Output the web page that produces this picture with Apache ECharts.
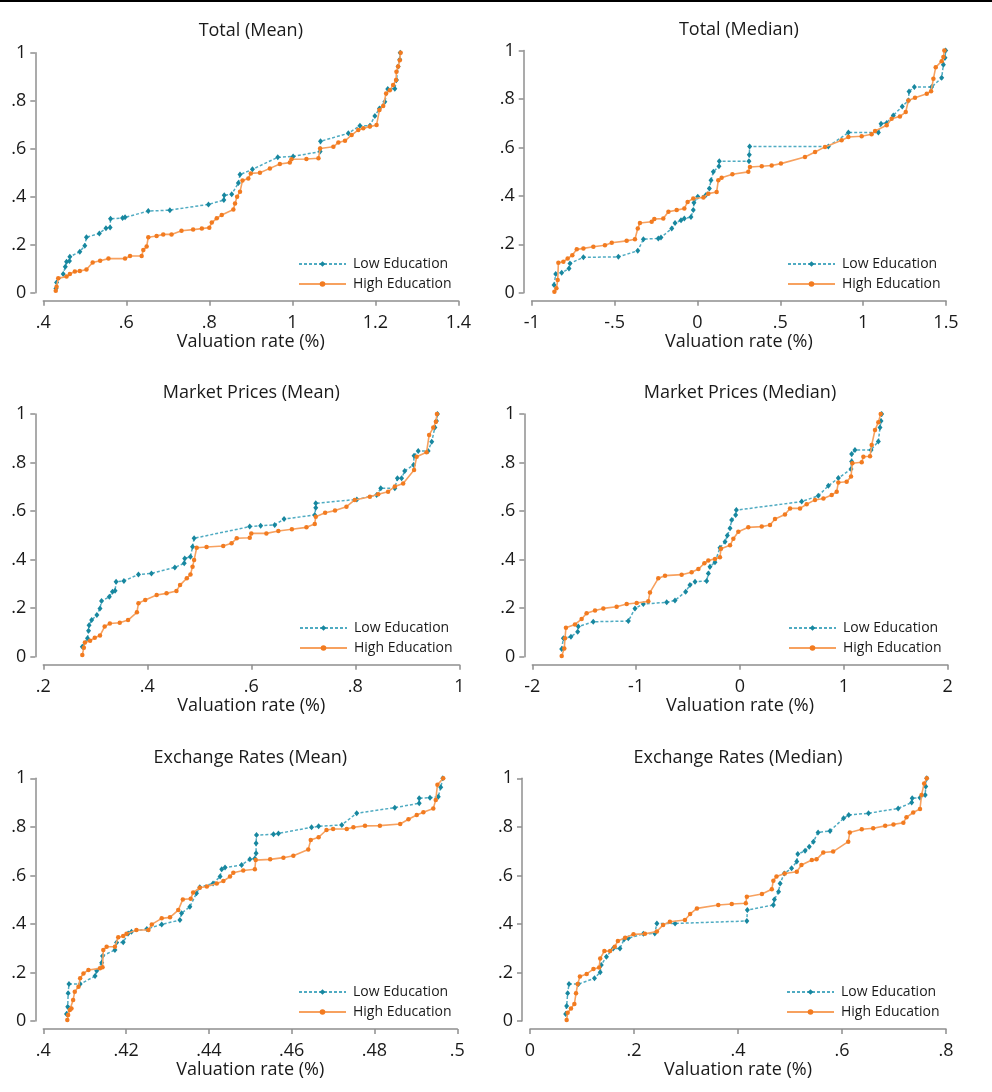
<!DOCTYPE html>
<html>
<head>
<meta charset="utf-8">
<script src="https://cdn.jsdelivr.net/npm/echarts@6/dist/echarts.min.js"></script>
<style>
html, body { margin: 0; padding: 0; background: #fff; }
#chart { width: 992px; height: 1092px; }
#topline { position: absolute; left: 0; top: 0; width: 992px; height: 2px; background: #000; z-index: 5; }
</style>
</head>
<body>
<div id="topline"></div>
<div id="chart"></div>
<script>
// panel titles, x-axis ranges [min, max, interval]
const panelTitles = ['Total (Mean)', 'Total (Median)', 'Market Prices (Mean)', 'Market Prices (Median)', 'Exchange Rates (Mean)', 'Exchange Rates (Median)']
const xRanges = [[0.4, 1.4, 0.2], [-1, 1.5, 0.5], [0.2, 1, 0.2], [-2, 2, 1], [0.4, 0.5, 0.02], [0, 0.8, 0.2]]
const seriesNames = ['Low Education', 'High Education']
const xName = 'Valuation rate (%)'

// Total (Mean)
const totalMeanLow = [[.4305,.018],[.432,.042],[.448,.078],[.453,.108],[.456,.129],[.463,.132],[.464,.15],[.488,.171],[.5,.196],[.504,.231],[.535,.247],[.551,.269],[.561,.272],[.562,.308],[.591,.311],[.597,.314],[.653,.34],[.705,.344],[.798,.368],[.835,.386],[.836,.406],[.854,.41],[.87,.457],[.874,.492],[.904,.514],[.965,.564],[1.002,.568],[1.067,.588],[1.068,.631],[1.135,.664],[1.163,.696],[1.187,.696],[1.199,.736],[1.21,.768],[1.223,.796],[1.23,.849],[1.247,.85],[1.251,.886],[1.255,.942],[1.259,.972],[1.26,1]]
const totalMeanHigh = [[.43,.008],[.432,.025],[.436,.06],[.456,.067],[.464,.078],[.476,.088],[.488,.09],[.504,.097],[.519,.126],[.537,.133],[.557,.142],[.597,.142],[.609,.153],[.637,.153],[.641,.178],[.649,.192],[.653,.231],[.673,.236],[.689,.243],[.709,.243],[.733,.258],[.761,.263],[.782,.267],[.8,.271],[.806,.292],[.818,.31],[.83,.324],[.858,.347],[.862,.372],[.867,.4],[.874,.421],[.88,.467],[.894,.476],[.9,.497],[.922,.5],[.946,.518],[.97,.536],[.994,.542],[.998,.556],[1.034,.557],[1.063,.56],[1.067,.601],[1.099,.608],[1.111,.626],[1.127,.633],[1.143,.657],[1.159,.678],[1.171,.685],[1.187,.692],[1.203,.699],[1.21,.761],[1.219,.778],[1.226,.83],[1.235,.844],[1.243,.865],[1.25,.886],[1.251,.921],[1.255,.942],[1.259,.969],[1.261,1]]

// Total (Median)
const totalMedianLow = [[-.865,.032],[-.855,.077],[-.819,.082],[-.775,.1],[-.769,.121],[-.688,.146],[-.477,.148],[-.36,.173],[-.326,.221],[-.236,.224],[-.22,.228],[-.155,.265],[-.135,.288],[-.099,.299],[-.079,.306],[-.039,.313],[-.025,.341],[-.021,.371],[.002,.396],[.05,.402],[.072,.43],[.082,.464],[.096,.499],[.13,.522],[.132,.543],[.311,.543],[.313,.57],[.315,.604],[.79,.604],[.911,.661],[1.092,.661],[1.108,.698],[1.142,.701],[1.182,.732],[1.236,.769],[1.273,.794],[1.277,.831],[1.309,.849],[1.413,.849],[1.474,.887],[1.484,.941],[1.494,.97],[1.498,1]]
const totalMedianHigh = [[-.863,.004],[-.851,.018],[-.843,.052],[-.839,.124],[-.809,.128],[-.783,.141],[-.755,.155],[-.728,.179],[-.688,.183],[-.628,.19],[-.558,.196],[-.517,.206],[-.427,.214],[-.377,.221],[-.36,.265],[-.347,.288],[-.276,.293],[-.26,.304],[-.206,.306],[-.175,.334],[-.125,.341],[-.079,.348],[-.059,.375],[-.025,.389],[.036,.393],[.066,.409],[.116,.416],[.126,.464],[.146,.475],[.211,.489],[.307,.499],[.317,.519],[.388,.522],[.448,.525],[.504,.533],[.649,.56],[.71,.581],[.77,.602],[.87,.629],[.911,.643],[.991,.646],[1.051,.654],[1.072,.668],[1.142,.691],[1.172,.718],[1.222,.728],[1.257,.746],[1.273,.794],[1.313,.805],[1.384,.821],[1.41,.832],[1.424,.883],[1.438,.931],[1.474,.956],[1.484,.973],[1.49,1]]

// Market Prices (Mean)
const marketMeanLow = [[.275,.041],[.285,.076],[.287,.107],[.288,.13],[.293,.151],[.303,.172],[.309,.199],[.312,.229],[.327,.247],[.333,.268],[.338,.272],[.34,.309],[.355,.312],[.383,.339],[.408,.343],[.453,.368],[.471,.385],[.472,.405],[.483,.412],[.487,.453],[.49,.488],[.597,.536],[.618,.54],[.645,.543],[.663,.567],[.722,.584],[.724,.614],[.724,.632],[.803,.648],[.841,.666],[.849,.694],[.876,.694],[.881,.735],[.889,.735],[.895,.765],[.912,.79],[.913,.828],[.921,.848],[.94,.848],[.947,.886],[.953,.944],[.956,.971],[.958,1]]
const marketMeanHigh = [[.275,.007],[.278,.037],[.28,.059],[.29,.066],[.299,.078],[.309,.087],[.318,.124],[.328,.137],[.347,.14],[.363,.151],[.38,.183],[.383,.22],[.396,.234],[.418,.254],[.437,.261],[.456,.271],[.463,.295],[.476,.323],[.483,.339],[.487,.371],[.49,.398],[.495,.449],[.514,.452],[.546,.456],[.562,.467],[.572,.488],[.597,.49],[.6,.508],[.629,.508],[.652,.518],[.678,.525],[.706,.533],[.722,.547],[.724,.577],[.742,.593],[.761,.602],[.783,.618],[.799,.646],[.828,.659],[.844,.669],[.863,.68],[.876,.701],[.892,.714],[.913,.769],[.918,.824],[.937,.842],[.942,.913],[.95,.944],[.955,.968],[.957,1]]

// Market Prices (Median)
const marketMedianLow = [[-1.717,.032],[-1.701,.076],[-1.628,.082],[-1.563,.103],[-1.557,.124],[-1.413,.144],[-1.075,.147],[-1.011,.199],[-.931,.217],[-.706,.224],[-.626,.232],[-.523,.268],[-.482,.295],[-.433,.309],[-.321,.312],[-.305,.343],[-.289,.371],[-.241,.389],[-.193,.449],[-.144,.474],[-.122,.499],[-.096,.529],[-.08,.563],[-.042,.584],[-.035,.604],[.594,.639],[.754,.663],[.851,.704],[.947,.736],[1.069,.773],[1.075,.804],[1.075,.835],[1.107,.852],[1.262,.852],[1.332,.887],[1.348,.944],[1.358,.971],[1.364,1]]
const marketMedianHigh = [[-1.717,.003],[-1.692,.034],[-1.685,.076],[-1.676,.119],[-1.589,.133],[-1.525,.155],[-1.477,.179],[-1.396,.19],[-1.316,.199],[-1.188,.206],[-1.091,.217],[-.995,.221],[-.883,.228],[-.867,.265],[-.787,.323],[-.722,.334],[-.562,.338],[-.466,.348],[-.401,.361],[-.343,.385],[-.305,.396],[-.241,.403],[-.193,.41],[-.183,.445],[-.096,.459],[-.064,.486],[-.016,.515],[.08,.533],[.209,.536],[.289,.543],[.337,.567],[.433,.586],[.482,.611],[.578,.611],[.642,.628],[.722,.646],[.803,.652],[.883,.666],[.931,.68],[.947,.718],[1.027,.721],[1.069,.742],[1.082,.797],[1.172,.801],[1.188,.824],[1.252,.826],[1.268,.872],[1.3,.934],[1.332,.966],[1.355,1]]

// Exchange Rates (Mean)
const exchangeMeanLow = [[.4056,.029],[.4059,.059],[.406,.114],[.4062,.152],[.4089,.152],[.4125,.185],[.4129,.207],[.4141,.24],[.4143,.268],[.4173,.293],[.4177,.323],[.4193,.324],[.4205,.361],[.4213,.368],[.425,.379],[.4286,.398],[.433,.416],[.4334,.444],[.4354,.471],[.437,.526],[.4378,.551],[.441,.567],[.4427,.595],[.4431,.625],[.4439,.632],[.4479,.643],[.4499,.666],[.4511,.67],[.4514,.691],[.4514,.732],[.4515,.766],[.4556,.769],[.4568,.773],[.4648,.798],[.4665,.802],[.4721,.808],[.4757,.856],[.4849,.879],[.4908,.897],[.4908,.918],[.4934,.92],[.4954,.924],[.496,.963],[.4965,1]]
const exchangeMeanHigh = [[.4058,.004],[.406,.025],[.4064,.045],[.4068,.052],[.4072,.087],[.4076,.121],[.4085,.141],[.4089,.176],[.4097,.196],[.4109,.21],[.4137,.217],[.4143,.221],[.4145,.293],[.4153,.306],[.4173,.306],[.4181,.345],[.4193,.35],[.4201,.359],[.4225,.375],[.4254,.375],[.4262,.398],[.4286,.423],[.4306,.427],[.4326,.457],[.4337,.501],[.4356,.504],[.4362,.529],[.4378,.549],[.4395,.554],[.4419,.567],[.4435,.577],[.4451,.595],[.4459,.611],[.4483,.62],[.4511,.625],[.4513,.663],[.4548,.666],[.458,.673],[.4604,.681],[.464,.707],[.4646,.746],[.4665,.757],[.4684,.787],[.47,.791],[.4733,.791],[.4749,.798],[.4777,.804],[.4813,.805],[.4862,.812],[.4882,.831],[.4902,.849],[.4918,.86],[.4942,.876],[.4948,.911],[.4952,.973],[.4966,1]]

// Exchange Rates (Median)
const exchangeMedianLow = [[.0686,.029],[.0705,.062],[.0724,.114],[.075,.152],[.093,.152],[.124,.176],[.135,.201],[.137,.231],[.147,.265],[.16,.299],[.173,.299],[.181,.337],[.189,.341],[.218,.359],[.24,.361],[.244,.402],[.279,.402],[.417,.412],[.418,.457],[.468,.478],[.47,.501],[.478,.533],[.481,.567],[.489,.608],[.503,.629],[.513,.657],[.515,.688],[.529,.701],[.537,.718],[.545,.739],[.554,.777],[.577,.783],[.603,.835],[.613,.849],[.651,.856],[.708,.876],[.734,.9],[.735,.918],[.75,.92],[.76,.931],[.761,.966],[.763,1]]
const exchangeMedianHigh = [[.0705,.004],[.0724,.034],[.0788,.052],[.0853,.07],[.0885,.114],[.0917,.152],[.096,.183],[.109,.194],[.122,.214],[.133,.22],[.135,.258],[.143,.288],[.154,.288],[.163,.306],[.169,.33],[.183,.343],[.199,.357],[.221,.359],[.244,.369],[.256,.396],[.269,.409],[.298,.416],[.308,.441],[.321,.464],[.362,.478],[.388,.482],[.415,.485],[.417,.512],[.446,.523],[.465,.543],[.468,.578],[.474,.595],[.49,.608],[.513,.615],[.522,.643],[.542,.663],[.551,.666],[.564,.694],[.583,.698],[.612,.739],[.615,.777],[.638,.79],[.66,.794],[.683,.804],[.699,.81],[.718,.817],[.724,.839],[.737,.859],[.75,.874],[.753,.931],[.758,.979],[.763,1]]

const lowData = [totalMeanLow, totalMedianLow, marketMeanLow, marketMedianLow, exchangeMeanLow, exchangeMedianLow]
const highData = [totalMeanHigh, totalMedianHigh, marketMeanHigh, marketMedianHigh, exchangeMeanHigh, exchangeMedianHigh]

// layout of each panel: plot area left, top, width, height, legend left, legend row-1 centre
const boxes = [
    [43.3, 52.7, 415, 240, 298, 264],
    [531.7, 50.5, 414.3, 242.2, 787, 264],
    [43.3, 414, 416, 242.7, 299, 628],
    [532.3, 414, 415.4, 242.7, 788, 628],
    [43.3, 778.3, 414, 242.7, 298, 992],
    [530, 778.3, 416, 242.7, 786, 992]
]
const titleCentreY = [31, 29.5, 393, 393, 758, 758]

const font = '"Open Sans", "Noto Sans", sans-serif'
const axisGrey = '#8f8f8f'
const tealLine = '#4fabc2'
const tealDot = '#17879f'
const orangeLine = '#f7a15f'
const orangeDot = '#f27b20'

function fmt (v) {
    const s = String(Math.round(v * 10000) / 10000)
    return s.replace(/^0\./, '.').replace(/^-0\./, '-.')
}

const chartInstance = echarts.init(document.getElementById('chart'), null, { renderer: 'canvas' })
const option = {
    animation: false,
    backgroundColor: '#fff',
    textStyle: { fontFamily: font },
    title: [],
    grid: [],
    xAxis: [],
    yAxis: [],
    legend: [],
    series: []
}

boxes.forEach((b, i) => {
    option.grid.push({ left: b[0], top: b[1], width: b[2], height: b[3], containLabel: false })
    option.title.push({
        text: panelTitles[i],
        left: b[0] + b[2] / 2,
        top: titleCentreY[i] - 12,
        textAlign: 'center',
        padding: 0,
        textStyle: { fontFamily: font, fontSize: 18, fontWeight: 'normal', color: '#1a1a1a', lineHeight: 24 }
    })
    const r = xRanges[i]
    option.xAxis.push({
        type: 'value',
        gridIndex: i,
        min: r[0],
        max: r[1],
        interval: r[2],
        offset: 8,
        name: xName,
        nameLocation: 'middle',
        nameGap: 29,
        nameTextStyle: { fontFamily: font, fontSize: 18, color: '#1a1a1a' },
        axisLine: { show: true, onZero: false, lineStyle: { color: axisGrey, width: 1.5 } },
        axisTick: { show: true, length: 5, lineStyle: { color: axisGrey, width: 1.5 } },
        axisLabel: { margin: 13, fontSize: 18, color: '#1a1a1a', fontFamily: font, formatter: fmt },
        splitLine: { show: false }
    })
    option.yAxis.push({
        type: 'value',
        gridIndex: i,
        min: 0,
        max: 1,
        interval: 0.2,
        offset: 8,
        axisLine: { show: true, onZero: false, lineStyle: { color: axisGrey, width: 1.5 } },
        axisTick: { show: true, length: 5, lineStyle: { color: axisGrey, width: 1.5 } },
        axisLabel: { margin: 9, fontSize: 18, color: '#1a1a1a', fontFamily: font, formatter: fmt },
        splitLine: { show: false }
    })
    option.legend.push({
        left: b[4],
        top: b[5] - 7,
        orient: 'vertical',
        itemWidth: 47,
        itemHeight: 7,
        itemGap: 6,
        padding: 0,
        selectedMode: false,
        data: seriesNames,
        textStyle: { fontFamily: font, fontSize: 14, color: '#1a1a1a', padding: [0, 0, 0, 2] }
    })
    option.series.push({
        name: seriesNames[0],
        type: 'line',
        xAxisIndex: i,
        yAxisIndex: i,
        data: lowData[i],
        symbol: 'diamond',
        symbolSize: [5, 6],
        itemStyle: { color: tealDot },
        lineStyle: { color: tealLine, width: 1.5, type: [3, 2] },
        z: 2
    })
    option.series.push({
        name: seriesNames[1],
        type: 'line',
        xAxisIndex: i,
        yAxisIndex: i,
        data: highData[i],
        symbol: 'circle',
        symbolSize: 4.5,
        itemStyle: { color: orangeDot },
        lineStyle: { color: orangeLine, width: 1.6 },
        z: 3
    })
})

chartInstance.setOption(option)
</script>
</body>
</html>
